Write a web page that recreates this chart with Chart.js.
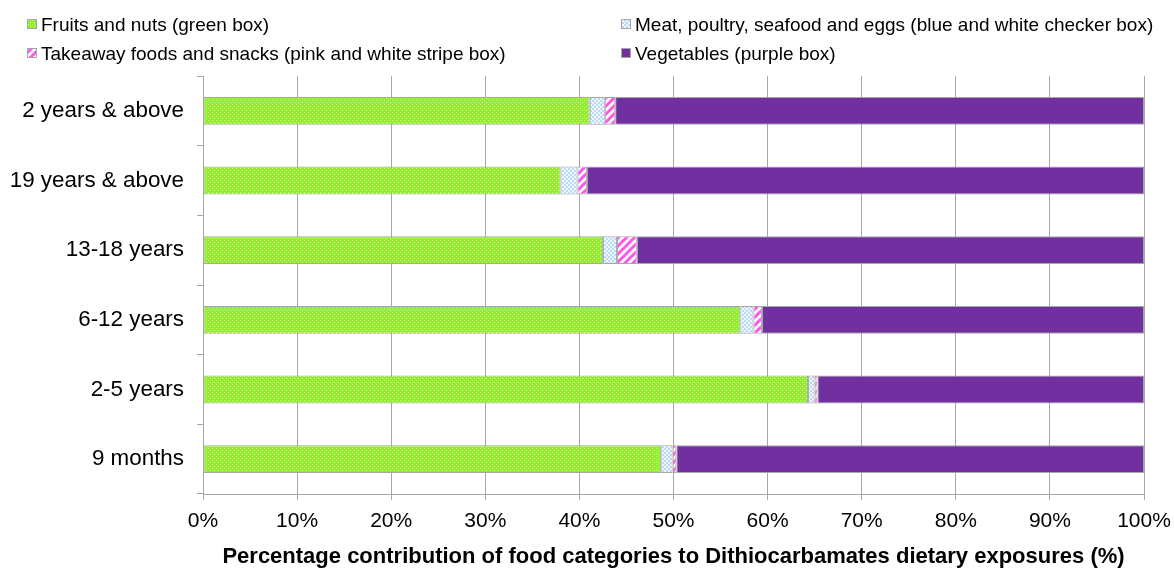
<!DOCTYPE html>
<html>
<head>
<meta charset="utf-8">
<script src="https://cdn.jsdelivr.net/npm/chart.js@4/dist/chart.umd.min.js"></script>
<style>
  body { margin: 0; background: #fff; }
  #wrap { width: 1174px; height: 570px; }
</style>
</head>
<body>
<div id="wrap"><canvas id="chart" width="1174" height="570"></canvas></div>
<script>
// Age groups, top to bottom
const ageGroups = ["2 years & above", "19 years & above", "13-18 years", "6-12 years", "2-5 years", "9 months"];

// Share of exposure (%) per food category
const fruitsNuts = [41.1, 38.0, 42.5, 57.1, 64.3, 48.7];
const meatEggs = [1.6, 1.8, 1.5, 1.4, 0.7, 1.2];
const takeaway = [1.1, 1.0, 2.1, 0.9, 0.3, 0.4];
const vegetables = [56.2, 59.2, 53.9, 40.6, 34.7, 49.7];

const seriesNames = [
    "Fruits and nuts (green box)",
    "Meat, poultry, seafood and eggs (blue and white checker box)",
    "Takeaway foods and snacks (pink and white stripe box)",
    "Vegetables (purple box)"
];

const xTicks = [0, 10, 20, 30, 40, 50, 60, 70, 80, 90, 100];

const gridGrey = "#a6a6a6";
const font = "'Liberation Sans', Arial, sans-serif";

const chart = document.querySelector("#chart").getContext("2d");

//Small tiles used as fill patterns
function makeTile(size, draw) {
    const c = document.createElement("canvas");
    c.width = size;
    c.height = size;
    const g = c.getContext("2d");
    draw(g, size);
    return chart.createPattern(c, "repeat");
}

const greenDots = makeTile(4, (g) => {
    g.fillStyle = "#94ee30";
    g.fillRect(0, 0, 4, 4);
    g.fillStyle = "#c8ff90";
    g.fillRect(0, 0, 1, 1);
    g.fillRect(2, 2, 1, 1);
});

const blueChecker = makeTile(4, (g) => {
    g.fillStyle = "#eef6ff";
    g.fillRect(0, 0, 4, 4);
    g.fillStyle = "#bcdaf6";
    g.fillRect(0, 0, 2, 2);
    g.fillRect(2, 2, 2, 2);
});

const pinkStripes = makeTile(8, (g, n) => {
    g.fillStyle = "#ffffff";
    g.fillRect(0, 0, n, n);
    g.strokeStyle = "#ff55ee";
    g.lineWidth = 3;
    g.beginPath();
    g.moveTo(0, n); g.lineTo(n, 0);
    g.moveTo(-2, 2); g.lineTo(2, -2);
    g.moveTo(n - 2, n + 2); g.lineTo(n + 2, n - 2);
    g.stroke();
});

const fills = [greenDots, blueChecker, pinkStripes, "#7030a0"];
const values = [fruitsNuts, meatEggs, takeaway, vegetables];

//Two-column legend across the top
const legendX = [27, 621];
const legendY = [31, 60];

const boxLegend = {
    id: "boxLegend",
    afterDraw(c) {
        const ctx = c.ctx;
        c.data.datasets.forEach((ds, i) => {
            const x = legendX[i % 2];
            const y = legendY[Math.floor(i / 2)];
            ctx.save();
            ctx.fillStyle = ds.backgroundColor;
            ctx.fillRect(x, y - 12, 10, 10);
            ctx.strokeStyle = gridGrey;
            ctx.lineWidth = 1;
            ctx.strokeRect(x + 0.5, y - 11.5, 9, 9);
            ctx.fillStyle = "#000";
            ctx.font = "19px " + font;
            ctx.textBaseline = "alphabetic";
            ctx.fillText(ds.label, x + 14, y);
            ctx.restore();
        });
    }
};

new Chart(chart, {
    type: "bar",
    data: {
        labels: ageGroups,
        datasets: seriesNames.map((name, i) => ({
            label: name,
            data: values[i],
            backgroundColor: fills[i],
            borderColor: gridGrey,
            borderWidth: 1,
            borderSkipped: false,
            barPercentage: 0.4,
            categoryPercentage: 1
        }))
    },
    options: {
        indexAxis: "y",
        responsive: false,
        animation: false,
        layout: { padding: { top: 76, right: 30, left: 0, bottom: 0 } },
        plugins: {
            legend: { display: false },
            tooltip: { enabled: false }
        },
        scales: {
            x: {
                stacked: true,
                min: 0,
                max: 100,
                afterBuildTicks: (scale) => { scale.ticks = xTicks.map(v => ({ value: v })); },
                afterFit: (scale) => {
                    scale.height = 76;
                    scale.paddingLeft = 0;
                    scale.paddingRight = 0;
                },
                grid: { color: gridGrey, tickLength: 6, lineWidth: 1 },
                border: { color: gridGrey },
                ticks: {
                    color: "#000",
                    font: { family: font, size: 21 },
                    padding: 9,
                    maxRotation: 0,
                    callback: (v) => v + "%"
                },
                title: {
                    display: true,
                    text: "Percentage contribution of food categories to Dithiocarbamates dietary exposures (%)",
                    color: "#000",
                    font: { family: font, size: 22, weight: "bold" },
                    padding: { top: 0, bottom: 0 }
                }
            },
            y: {
                stacked: true,
                afterFit: (scale) => { scale.width = 203; },
                grid: { drawOnChartArea: false, tickLength: 6, color: gridGrey, offset: true },
                border: { color: gridGrey },
                ticks: {
                    color: "#000",
                    font: { family: font, size: 22.4 },
                    padding: 13
                }
            }
        }
    },
    plugins: [boxLegend]
});
</script>
</body>
</html>
